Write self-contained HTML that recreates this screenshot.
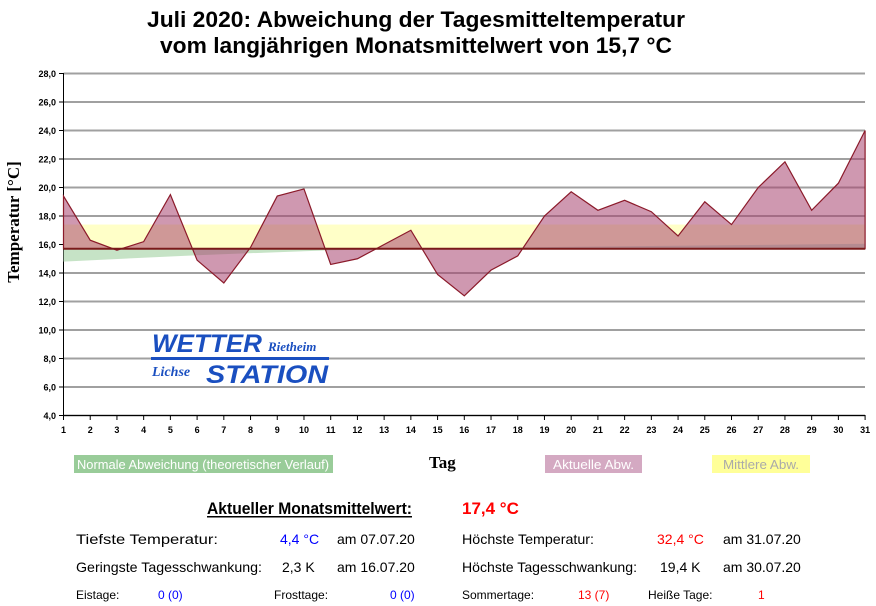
<!DOCTYPE html>
<html><head><meta charset="utf-8"><style>
body{margin:0;background:#fff;width:876px;height:606px;overflow:hidden}
svg{display:block}
text{font-family:"Liberation Sans",sans-serif}
</style></head><body>
<svg id="s" width="876" height="606" viewBox="0 0 876 606" xmlns="http://www.w3.org/2000/svg">
<rect width="876" height="606" fill="#fff"/>
<text x="416" y="27" text-anchor="middle" font-size="22" font-weight="bold" textLength="538" lengthAdjust="spacingAndGlyphs">Juli 2020: Abweichung der Tagesmitteltemperatur</text>
<text x="416" y="53" text-anchor="middle" font-size="22" font-weight="bold" textLength="512" lengthAdjust="spacingAndGlyphs">vom langjährigen Monatsmittelwert von 15,7 °C</text>
<g id="grid"></g>
<g id="data"></g>
<text transform="translate(19,222) rotate(-90)" text-anchor="middle" font-size="17" font-weight="bold" style="font-family:'Liberation Serif',serif">Temperatur [°C]</text>
<g font-style="italic" font-weight="bold">
<text x="152" y="352" font-size="25" textLength="110" lengthAdjust="spacingAndGlyphs" fill="#1a4fc0">WETTER</text>
<text x="268" y="351" font-size="13" style="font-family:'Liberation Serif',serif" fill="#1a4fc0">Rietheim</text>
<rect x="151" y="357" width="178" height="3" fill="#1a4fc0"/>
<text x="152" y="376" font-size="14" style="font-family:'Liberation Serif',serif" fill="#1a4fc0">Lichse</text>
<text x="206" y="383" font-size="25" textLength="122" lengthAdjust="spacingAndGlyphs" fill="#1a4fc0">STATION</text>
</g>
<rect x="74" y="455" width="259" height="18" fill="#99cc99"/>
<text x="77" y="469" font-size="13" fill="#fff" textLength="252" lengthAdjust="spacingAndGlyphs">Normale Abweichung (theoretischer Verlauf)</text>
<text x="429" y="468" font-size="17" font-weight="bold" style="font-family:'Liberation Serif',serif">Tag</text>
<rect x="545" y="455" width="97" height="18" fill="#d4a9c2"/>
<text x="553" y="469" font-size="13" fill="#fff" textLength="81" lengthAdjust="spacingAndGlyphs">Aktuelle Abw.</text>
<rect x="712" y="455" width="98" height="18" fill="#ffff99"/>
<text x="723" y="469" font-size="13" fill="#aaa" textLength="76" lengthAdjust="spacingAndGlyphs">Mittlere Abw.</text>
<text x="207" y="514" font-size="17" font-weight="bold" textLength="205" lengthAdjust="spacingAndGlyphs">Aktueller Monatsmittelwert:</text>
<rect x="207" y="516" width="205" height="1.5" fill="#000"/>
<text x="462" y="514" font-size="17" font-weight="bold" fill="#f00">17,4 °C</text>
<g font-size="14">
<text x="76" y="544" textLength="142" lengthAdjust="spacingAndGlyphs">Tiefste Temperatur:</text>
<text x="280" y="544" fill="#00f">4,4 °C</text>
<text x="337" y="544">am 07.07.20</text>
<text x="462" y="544" textLength="132" lengthAdjust="spacingAndGlyphs">Höchste Temperatur:</text>
<text x="657" y="544" fill="#f00">32,4 °C</text>
<text x="723" y="544">am 31.07.20</text>
<text x="76" y="572" textLength="186" lengthAdjust="spacingAndGlyphs">Geringste Tagesschwankung:</text>
<text x="282" y="572">2,3 K</text>
<text x="337" y="572">am 16.07.20</text>
<text x="462" y="572" textLength="175" lengthAdjust="spacingAndGlyphs">Höchste Tagesschwankung:</text>
<text x="660" y="572">19,4 K</text>
<text x="723" y="572">am 30.07.20</text>
</g>
<g font-size="12">
<text x="76" y="599">Eistage:</text>
<text x="158" y="599" fill="#00f">0 (0)</text>
<text x="274" y="599">Frosttage:</text>
<text x="390" y="599" fill="#00f">0 (0)</text>
<text x="462" y="599">Sommertage:</text>
<text x="578" y="599" fill="#f00">13 (7)</text>
<text x="648" y="599">Heiße Tage:</text>
<text x="758" y="599" fill="#f00">1</text>
</g>
</svg>
<script>
const NS="http://www.w3.org/2000/svg";
const X=d=>63.5+(d-1)*26.72, Y=v=>415.5-(v-4)*14.25;
const g=document.getElementById('grid'), dg=document.getElementById('data');
function el(p,t,a,txt){const e=document.createElementNS(NS,t);for(const k in a)e.setAttribute(k,a[k]);if(txt!==undefined)e.textContent=txt;p.appendChild(e);return e;}
for(let v=4;v<=28;v+=2){const y=Y(v);
 el(g,'line',{x1:63.5,x2:865,y1:y,y2:y,stroke:'#a0a0a0','stroke-width':2});
 el(g,'line',{x1:59,x2:63.5,y1:y,y2:y,stroke:'#000'});
 el(g,'text',{x:56,y:y+3.5,'text-anchor':'end','font-size':9,'font-weight':'bold'},v.toFixed(1).replace('.',','));}
el(g,'line',{x1:63.5,x2:63.5,y1:73,y2:416,stroke:'#000'});
el(g,'line',{x1:63.5,x2:865,y1:415.5,y2:415.5,stroke:'#000'});
for(let d=1;d<=31;d++){const x=X(d);el(g,'line',{x1:x,x2:x,y1:415,y2:420,stroke:'#000'});
 el(g,'text',{x:x,y:433,'text-anchor':'middle','font-size':9,'font-weight':'bold'},d);}
const b=15.7;
el(dg,'rect',{x:63.5,y:Y(17.4),width:865-63.5,height:Y(b)-Y(17.4),fill:'#ffffc8'});
let gp=`${X(1)},${Y(b)} ${X(1)},${Y(14.8)} ${X(6)},${Y(15.25)} ${X(11)},${Y(15.6)} ${X(18)},${Y(15.8)} ${X(31)},${Y(16.05)} ${X(31)},${Y(b)}`;
el(dg,'polygon',{points:gp,fill:'#b8dcb8','fill-opacity':0.8});
const v=[19.4,16.3,15.6,16.2,19.5,14.9,13.3,15.8,19.4,19.9,14.6,15.0,16.0,17.0,13.9,12.4,14.2,15.2,18.0,19.7,18.4,19.1,18.3,16.6,19.0,17.4,20.0,21.8,18.4,20.3,24.0];
let pts=`${X(1)},${Y(b)} `+v.map((t,i)=>`${X(i+1)},${Y(t)}`).join(' ')+` ${X(31)},${Y(b)}`;
el(dg,'polygon',{points:pts,fill:'#a8446f','fill-opacity':0.55,stroke:'#8b1a2a','stroke-width':1.2});
el(dg,'line',{x1:63.5,x2:865,y1:Y(b),y2:Y(b),stroke:'#7a1a1a','stroke-width':2});
</script>
</body></html>
